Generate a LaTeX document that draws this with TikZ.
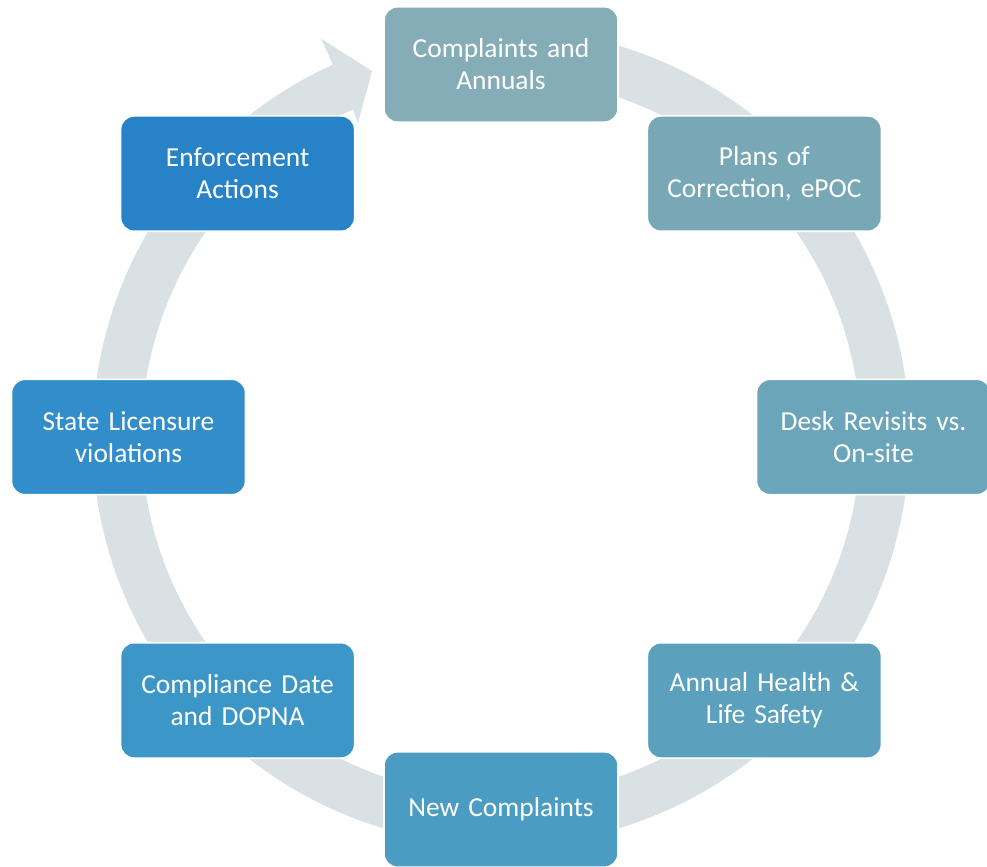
\documentclass[tikz,border=0pt]{standalone}
\usepackage{fontspec}
\setmainfont{Carlito}
\usepackage{xcolor}
\usepackage{tikz}
\usetikzlibrary{positioning}
\usetikzlibrary{calc}

\definecolor{ringgray}{HTML}{D9E1E4}
\definecolor{stepA}{HTML}{84ADB7}
\definecolor{stepB}{HTML}{78A8B6}
\definecolor{stepC}{HTML}{6BA5BA}
\definecolor{stepD}{HTML}{5BA1BE}
\definecolor{stepE}{HTML}{4B9CC3}
\definecolor{stepF}{HTML}{3C96C8}
\definecolor{stepG}{HTML}{328ECA}
\definecolor{stepH}{HTML}{2882C8}

\tikzset{
  % boxes of the cycle
  cyclebox/.style={rectangle, rounded corners=10pt, draw=white, line width=1.2pt,
                   fill=#1, minimum width=175.5pt, minimum height=86.5pt,
                   text width=165pt, align=center, text=white,
                   font=\fontsize{20.6}{24}\selectfont}
}

\begin{document}
\begin{tikzpicture}[x=0.75pt, y=0.75pt]

\useasboundingbox (-501,-429) rectangle (486,437);

% Ring with arrow head
\fill[ringgray] (80:408.5) arc[start angle=80, end angle=-245.7, radius=408.5]
  -- (114.3:437) -- (109.4:388) -- (114.5:345) -- (114.3:359.5)
  arc[start angle=-245.7, end angle=80, radius=359.5] -- cycle;

% Cycle steps
\node[cyclebox=stepA] (complaints) at (90:372.5) {Complaints and\\Annuals};
\node[cyclebox=stepB] (plans) at (45:372.5) {Plans of\\Correction, ePOC};
\node[cyclebox=stepC] (desk) at (0:372.5) {Desk Revisits vs.\\On-site};
\node[cyclebox=stepD] (annual) at (-45:372.5) {Annual Health \&\\Life Safety};
\node[cyclebox=stepE] (newcompl) at (-90:372.5) {New Complaints};
\node[cyclebox=stepF] (compliance) at (-135:372.5) {Compliance Date\\and DOPNA};
\node[cyclebox=stepG] (licensure) at (180:372.5) {State Licensure\\violations};
\node[cyclebox=stepH] (enforcement) at (135:372.5) {Enforcement\\Actions};

\end{tikzpicture}
\end{document}
